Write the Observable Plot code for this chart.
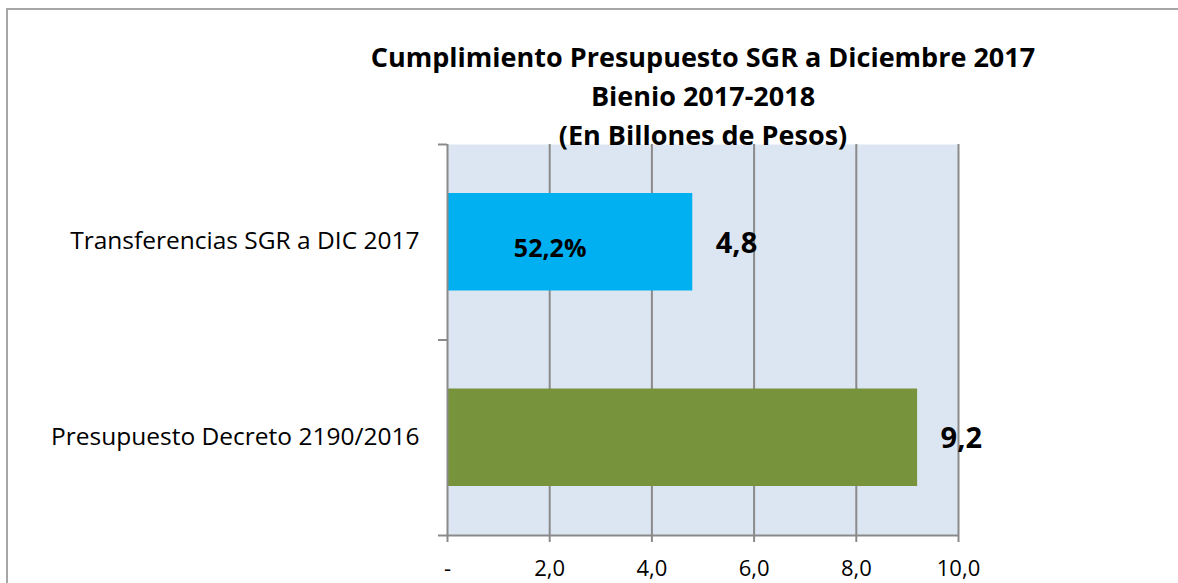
<!DOCTYPE html>
<html>
<head>
<meta charset="utf-8">
<script src="https://cdn.jsdelivr.net/npm/d3@7"></script>
<script src="https://cdn.jsdelivr.net/npm/@observablehq/plot@0.6"></script>
<style>
  html, body { margin: 0; padding: 0; background: #fff; overflow: hidden; }
  #wrap { position: relative; width: 1178px; height: 583px; overflow: hidden; font-family: "Open Sans", Lato, sans-serif; }
  #frame { position: absolute; left: 6px; top: 8px; width: 1172px; height: 575px; border-top: 2px solid #a6a6a6; border-left: 2px solid #a6a6a6; box-sizing: border-box; pointer-events: none; }
  #title { position: absolute; left: 203px; width: 1000px; top: 37px; text-align: center; font-weight: bold; font-size: 27px; line-height: 39px; color: #000; white-space: nowrap; }
  #chart { position: absolute; left: 0; top: 0; }
</style>
</head>
<body>
<div id="wrap">
  <div id="chart"></div>
  <div id="frame"></div>
  <div id="title"></div>
</div>
<script>
const titleLines = ["Cumplimiento Presupuesto SGR a Diciembre 2017", "Bienio 2017-2018", "(En Billones de Pesos)"];
const categories = ["Transferencias SGR a DIC 2017", "Presupuesto Decreto 2190/2016"];
const values = [4.8, 9.2];
const valueLabels = ["4,8", "9,2"];
const pctLabels = ["52,2%", ""];
const barColors = ["#00B0F0", "#77933C"];
const xTicks = [0, 2, 4, 6, 8, 10];
const xTickLabels = ["-", "2,0", "4,0", "6,0", "8,0", "10,0"];

const titleEl = document.getElementById("title");
titleLines.forEach(t => { const d = document.createElement("div"); d.textContent = t; titleEl.appendChild(d); });

const data = categories.map((c, i) => ({cat: c, idx: i, value: values[i], label: valueLabels[i], pct: pctLabels[i], color: barColors[i]}));
const gray = "#8a8a8a";
const font = "'Open Sans', Lato, sans-serif";

const chart = Plot.plot({
  width: 1178,
  height: 583,
  marginLeft: 447,
  marginRight: 220,
  marginTop: 144,
  marginBottom: 48,
  style: {fontFamily: font, background: "transparent"},
  x: {domain: [0, 10]},
  y: {domain: [0, categories.length], reverse: true},
  marks: [
    Plot.frame({fill: "#DCE6F2", stroke: null}),
    Plot.gridX(xTicks.slice(1), {stroke: gray, strokeOpacity: 1, strokeWidth: 2}),
    Plot.rectX(data, {x1: 0, x2: "value", y1: d => d.idx, y2: d => d.idx + 1, insetTop: 49, insetBottom: 49, fill: "color"}),
    Plot.ruleX([0], {stroke: gray, strokeWidth: 2}),
    Plot.ruleY([categories.length], {stroke: gray, strokeWidth: 2}),
    Plot.axisX({ticks: xTicks, tickSize: 7, tickPadding: 18, tickFormat: (d, i) => xTickLabels[i], stroke: gray, strokeWidth: 2, strokeOpacity: 1, fontSize: 22, fill: "#000", label: null}),
    Plot.axisY({ticks: d3.range(categories.length + 1), tickSize: 9, tickFormat: () => "", stroke: gray, strokeWidth: 2, strokeOpacity: 1, label: null}),
    Plot.text(data, {x: 0, y: d => d.idx + 0.5, text: "cat", textAnchor: "end", dx: -28, dy: -1, fontSize: 24.5, fill: "#000"}),
    Plot.text(data, {x: "value", y: d => d.idx + 0.5, text: "label", textAnchor: "start", dx: 23, dy: 1, fontSize: 29, fontWeight: "bold", fill: "#000"}),
    Plot.text(data, {x: d => d.value / 2, y: d => d.idx + 0.5, text: "pct", textAnchor: "middle", dx: -20, dy: 7, fontSize: 25, fontWeight: "bold", fill: "#000"})
  ]
});
document.getElementById("chart").appendChild(chart);
</script>
</body>
</html>
